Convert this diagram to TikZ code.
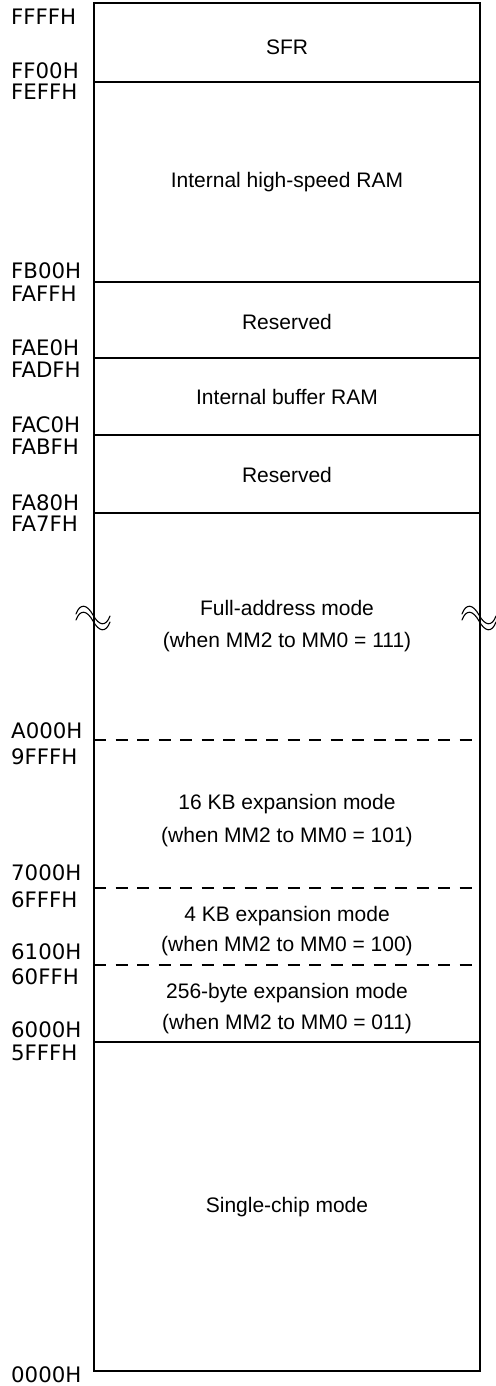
\documentclass[tikz,border=0pt]{standalone}
\usepackage{fontspec}
\setmainfont{Liberation Sans}
\newfontfamily\labelfont{DejaVu Sans}
\begin{document}
\begin{tikzpicture}[x=1pt,y=-1pt,
  addr/.style={font=\labelfont\fontsize{21.3}{24}\selectfont, anchor=base west, inner sep=0pt},
  region/.style={font=\fontsize{21}{24}\selectfont, anchor=base, inner sep=0pt},
  outer/.style={line width=2.2pt},
  divider/.style={line width=1.1pt},
  dashdiv/.style={line width=1.1pt, dash pattern=on 12pt off 9.5pt},
  brk/.style={line width=1.1pt, line cap=round}]
\useasboundingbox (0,0) rectangle (495,1386);
\def\L{94}\def\R{480}\def\C{287}
% outer box
\draw[outer] (\L,3) rectangle (\R,1371);
% solid dividers
\foreach \yy in {82,282,358,435,513,1042}
  \draw[divider] (\L,\yy) -- (\R,\yy);
% dashed dividers
\foreach \yy in {740,888,965}
  \draw[dashdiv] (\L,\yy) -- (\R,\yy);
% break marks
\foreach \dx in {0,386}{
  \begin{scope}[xshift=\dx]
  \draw[brk] (76,614) .. controls (80,603) and (87,604) .. (93,615) .. controls (99,626) and (106,627) .. (110,616);
  \draw[brk] (76,620) .. controls (80,609) and (87,610) .. (93,621) .. controls (99,632) and (106,633) .. (110,622);
  \end{scope}}
% region texts
\node[region] (sfr) at (\C,55) {SFR};
\node[region] (hsram) at (\C,187) {Internal high-speed RAM};
\node[region] (res1) at (\C,329) {Reserved};
\node[region] (bufram) at (\C,404) {Internal buffer RAM};
\node[region] (res2) at (\C,482) {Reserved};
\node[region] (full1) at (\C,615) {Full-address mode};
\node[region] (full2) at (\C,647) {(when MM2 to MM0 = 111)};
\node[region] (kb16a) at (\C,809) {16 KB expansion mode};
\node[region] (kb16b) at (\C,842) {(when MM2 to MM0 = 101)};
\node[region] (kb4a) at (\C,921) {4 KB expansion mode};
\node[region] (kb4b) at (\C,951) {(when MM2 to MM0 = 100)};
\node[region] (b256a) at (\C,998) {256-byte expansion mode};
\node[region] (b256b) at (\C,1029) {(when MM2 to MM0 = 011)};
\node[region] (single) at (\C,1212) {Single-chip mode};
% address labels
\node[addr] (a1) at (11,25) {FFFFH};
\node[addr] (a2) at (11,79) {FF00H};
\node[addr] (a3) at (11,100) {FEFFH};
\node[addr] (a4) at (11,278) {FB00H};
\node[addr] (a5) at (11,301) {FAFFH};
\node[addr] (a6) at (11,355) {FAE0H};
\node[addr] (a7) at (11,377) {FADFH};
\node[addr] (a8) at (11,432) {FAC0H};
\node[addr] (a9) at (11,454) {FABFH};
\node[addr] (a10) at (11,510) {FA80H};
\node[addr] (a11) at (11,531) {FA7FH};
\node[addr] (a12) at (11,738) {A000H};
\node[addr] (a13) at (11,764) {9FFFH};
\node[addr] (a14) at (11,880) {7000H};
\node[addr] (a15) at (11,907) {6FFFH};
\node[addr] (a16) at (11,959) {6100H};
\node[addr] (a17) at (11,984) {60FFH};
\node[addr] (a18) at (11,1037) {6000H};
\node[addr] (a19) at (11,1060) {5FFFH};
\node[addr] (a20) at (11,1382) {0000H};
\end{tikzpicture}
\end{document}
